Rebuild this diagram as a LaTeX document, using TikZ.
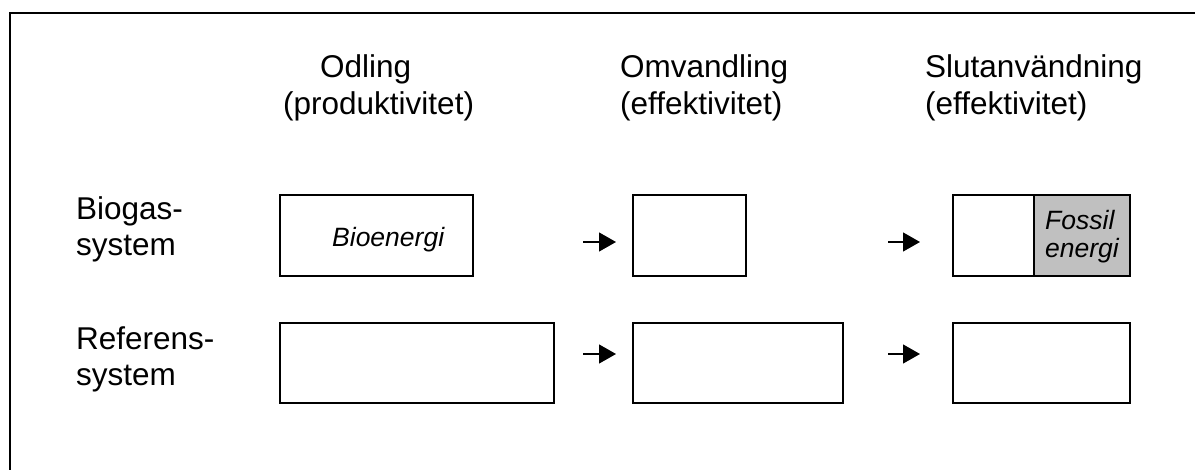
\documentclass[tikz,border=0pt]{standalone}
\usepackage{fontspec}
\setmainfont{Liberation Sans}
\usetikzlibrary{arrows.meta}
\definecolor{fossilgray}{RGB}{192,192,192}
\begin{document}
\begin{tikzpicture}[x=1pt,y=-1pt,
  box/.style={draw, line width=1.6pt, inner sep=0pt, anchor=north west},
  lbl/.style={anchor=base west, inner sep=0pt, font=\fontsize{31.5}{36}\selectfont},
  itl/.style={anchor=base west, inner sep=0pt, font=\fontsize{26.5}{30}\selectfont\itshape},
  flow/.style={line width=1.3pt, -{Triangle[length=17pt,width=19pt]}}]
\useasboundingbox (0,0) rectangle (1195,470);
\draw[line width=2.4pt] (10,475) -- (10,13) -- (1200,13);
% headers
\node[lbl] (h1a) at (320,78) {Odling};
\node[lbl] (h1b) at (283,115) {(produktivitet)};
\node[lbl] (h2a) at (620,78) {Omvandling};
\node[lbl] (h2b) at (620,115) {(effektivitet)};
\node[lbl] (h3a) at (925,78) {Slutanvändning};
\node[lbl] (h3b) at (925,115) {(effektivitet)};
% row labels
\node[lbl] (r1a) at (76,220) {Biogas-};
\node[lbl] (r1b) at (76,256) {system};
\node[lbl] (r2a) at (76,350) {Referens-};
\node[lbl] (r2b) at (76,386) {system};
% row 1 boxes
\node[box, minimum width=193pt, minimum height=81pt] (b1) at (279,194) {};
\node[box, minimum width=113pt, minimum height=81pt] (b2) at (632,194) {};
\node[box, minimum width=81pt, minimum height=81pt] (b3) at (952,194) {};
\node[box, fill=fossilgray, minimum width=96pt, minimum height=81pt] (b3f) at (1033,194) {};
\node[itl] (bio) at (332,247) {Bioenergi};
\node[itl] (fos1) at (1045,230) {Fossil};
\node[itl] (fos2) at (1045,258) {energi};
% row 2 boxes
\node[box, minimum width=274pt, minimum height=80pt] (c1) at (279,322) {};
\node[box, minimum width=210pt, minimum height=80pt] (c2) at (632,322) {};
\node[box, minimum width=177pt, minimum height=80pt] (c3) at (952,322) {};
% arrows
\coordinate (a1s) at (583,242); \coordinate (a1e) at (616,242);
\coordinate (a2s) at (888,242); \coordinate (a2e) at (920,242);
\coordinate (a3s) at (583,354); \coordinate (a3e) at (616,354);
\coordinate (a4s) at (888,354); \coordinate (a4e) at (920,354);
\draw[flow] (a1s) -- (a1e);
\draw[flow] (a2s) -- (a2e);
\draw[flow] (a3s) -- (a3e);
\draw[flow] (a4s) -- (a4e);
\end{tikzpicture}
\end{document}
